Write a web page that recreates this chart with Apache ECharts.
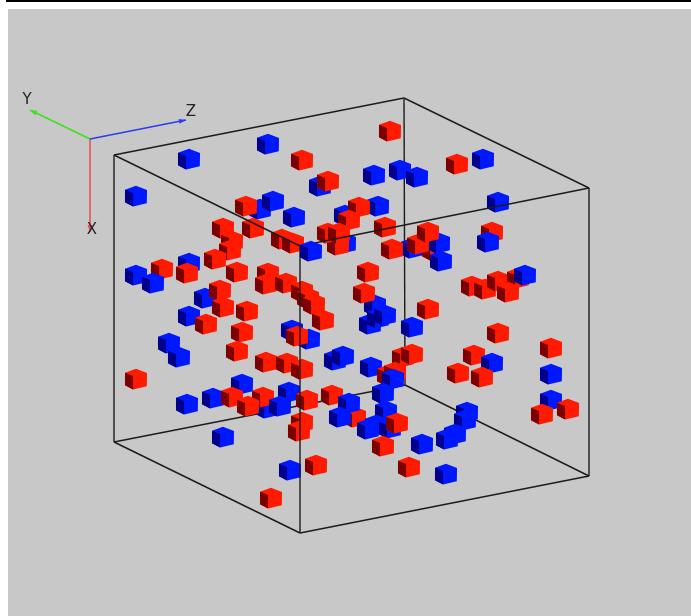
<!DOCTYPE html>
<html>
<head>
<meta charset="utf-8">
<style>
  html, body { margin: 0; padding: 0; background: #fff; overflow: hidden; }
  #bar { position: absolute; left: 6px; top: 0; width: 685px; height: 2px; background: #000; }
  #chart { position: absolute; left: 8px; top: 9px; width: 683px; height: 607px; filter: blur(0.45px); }
</style>
<script src="https://cdn.jsdelivr.net/npm/echarts@6/dist/echarts.min.js"></script>
</head>
<body>
<div id="bar"></div>
<div id="chart"></div>
<script>
// cubes, in paint order (back ones first)
const cubeX = [189,268,136,302,390,457,483,374,400,417,
  320,328,260,246,273,294,345,378,359,349,
  385,498,223,253,232,230,215,282,293,345,
  338,328,339,412,392,433,439,418,428,441,
  492,488,189,136,162,187,153,237,368,268,
  266,286,302,308,314,323,205,220,223,247,
  189,206,242,472,485,498,518,508,525,375,
  364,370,378,385,428,412,498,169,179,237,
  292,309,297,551,335,343,474,492,458,482,
  551,551,542,568,403,412,371,388,395,393,
  266,287,302,136,242,187,213,232,289,267,
  263,248,280,307,332,383,355,349,340,386,
  376,368,390,397,383,422,467,465,455,447,
  223,302,299,290,316,271,409,446];
const cubeY = [159,144,196,160,131,164,159,175,170,177,
  186,181,209,206,201,217,215,206,207,220,
  227,202,228,228,241,250,259,239,243,243,
  245,233,233,248,249,250,243,244,232,261,
  232,242,263,275,269,273,283,272,272,273,
  284,283,291,298,304,320,298,290,307,311,
  316,324,332,286,289,281,278,292,275,305,
  293,324,318,315,309,327,333,343,357,351,
  330,339,336,348,360,356,355,363,373,377,
  374,400,414,409,357,354,367,375,372,379,
  362,363,369,379,384,404,398,397,392,408,
  397,406,406,400,395,393,417,403,417,411,
  425,429,428,423,446,444,412,420,434,439,
  437,422,431,470,465,498,467,474];
const cubeKind = ['b','b','b','r','r','r','b','b','b','b',
  'b','r','b','r','b','b','b','b','r','r',
  'r','b','r','r','r','r','r','r','r','b',
  'r','r','r','b','r','r','b','r','r','b',
  'r','b','b','b','r','r','b','r','r','r',
  'r','r','r','r','r','r','b','r','r','r',
  'b','r','r','r','r','r','r','r','b','b',
  'r','b','b','b','r','b','r','b','b','r',
  'b','b','r','r','b','b','r','b','r','r',
  'b','b','r','r','r','r','b','r','r','b',
  'r','r','r','r','b','b','b','r','b','b',
  'r','r','b','r','r','b','r','b','b','b',
  'b','b','b','r','r','b','b','b','b','b',
  'b','r','r','b','r','r','r','b'];
// this one sits in front of the box's near edges
const nearCubeX = [311];
const nearCubeY = [251];
const nearCubeKind = ['b'];

// box corners: A left top, B back top, C right top, D near top, E left bottom, F near bottom, G right bottom, H back bottom
const cornerX = [114,404,589,300,114,300,589,405];
const cornerY = [155,98,188,246,442,533,476,385];
const backEdges = [[0,1],[1,2],[1,7],[7,4],[7,6]];
const nearEdges = [[0,3],[3,2],[3,5],[0,4],[2,6],[4,5],[5,6]];

// axis triad
const triadOrigin = [90,139];
const triadNames = ['X','Y','Z'];
const triadEndX = [90,30,186];
const triadEndY = [232,110,120];
const triadLabelX = [92,27,191];
const triadLabelY = [230,100,112];
const triadColors = ['#ee4a4a','#3ee01e','#2a3cf0'];

const cubeColors = { r: ['#ff1a00','#7d0000'], b: ['#0018ff','#00008c'] };

function renderCube(params, api) {
  const c = api.coord([api.value(0), api.value(1)]);
  const kind = cubeColors[api.value(2) === 0 ? 'r' : 'b'];
  const pts = o => o.map(p => [c[0] + p[0] * 1.05, c[1] + p[1] * 1.05]);
  return {
    type: 'group',
    children: [
      { type: 'polygon', shape: { points: pts([[-10.5,-6],[0,-9.8],[10.5,-5.6],[10.3,7],[-2.8,10],[-10.5,6]]) },
        style: { fill: kind[0] } },
      { type: 'polygon', shape: { points: pts([[-10.5,-6],[-2.8,-2.8],[-2.8,10],[-10.5,6]]) },
        style: { fill: kind[1] } }
    ]
  };
}

function renderEdge(params, api) {
  const a = api.coord([api.value(0), api.value(1)]);
  const b = api.coord([api.value(2), api.value(3)]);
  return { type: 'line', shape: { x1: a[0], y1: a[1], x2: b[0], y2: b[1] },
    style: { stroke: '#1c1c1c', lineWidth: 1.4 } };
}

function renderTriad(params, api) {
  const i = params.dataIndex;
  const o = api.coord(triadOrigin);
  const e = api.coord([api.value(0), api.value(1)]);
  const t = api.coord([api.value(2), api.value(3)]);
  const len = Math.hypot(e[0] - o[0], e[1] - o[1]);
  const ux = (e[0] - o[0]) / len, uy = (e[1] - o[1]) / len;
  return {
    type: 'group',
    children: [
      { type: 'line', shape: { x1: o[0], y1: o[1], x2: e[0], y2: e[1] },
        style: { stroke: triadColors[i], lineWidth: 1.5 } },
      { type: 'polygon', shape: { points: [
          [e[0], e[1]],
          [e[0] - ux * 7 - uy * 2.5, e[1] - uy * 7 + ux * 2.5],
          [e[0] - ux * 7 + uy * 2.5, e[1] - uy * 7 - ux * 2.5]] },
        style: { fill: triadColors[i] } },
      { type: 'text', x: t[0], y: t[1],
        style: { text: triadNames[i], fill: '#222', fontSize: 15, fontFamily: 'DejaVu Sans',
          textAlign: 'center', textVerticalAlign: 'middle' } }
    ]
  };
}

const toCubeData = (xs, ys, kinds) => xs.map((x, i) => [x, ys[i], kinds[i] === 'r' ? 0 : 1]);
const toEdgeData = edges => edges.map(e => [cornerX[e[0]], cornerY[e[0]], cornerX[e[1]], cornerY[e[1]]]);

const chart = echarts.init(document.getElementById('chart'), null, { renderer: 'canvas' });
chart.setOption({
  animation: false,
  backgroundColor: '#c8c8c8',
  grid: { left: 0, right: 0, top: 0, bottom: 0 },
  xAxis: { type: 'value', min: 8, max: 691, show: false },
  yAxis: { type: 'value', min: 9, max: 616, inverse: true, show: false },
  series: [
    { type: 'custom', name: 'back edges', z: 1, renderItem: renderEdge, data: toEdgeData(backEdges), silent: true },
    { type: 'custom', name: 'cubes', z: 2, renderItem: renderCube, data: toCubeData(cubeX, cubeY, cubeKind), silent: true },
    { type: 'custom', name: 'near edges', z: 3, renderItem: renderEdge, data: toEdgeData(nearEdges), silent: true },
    { type: 'custom', name: 'near cubes', z: 4, renderItem: renderCube, data: toCubeData(nearCubeX, nearCubeY, nearCubeKind), silent: true },
    { type: 'custom', name: 'triad', z: 5, renderItem: renderTriad, silent: true,
      data: triadEndX.map((x, i) => [x, triadEndY[i], triadLabelX[i], triadLabelY[i]]) }
  ]
});
</script>
</body>
</html>
